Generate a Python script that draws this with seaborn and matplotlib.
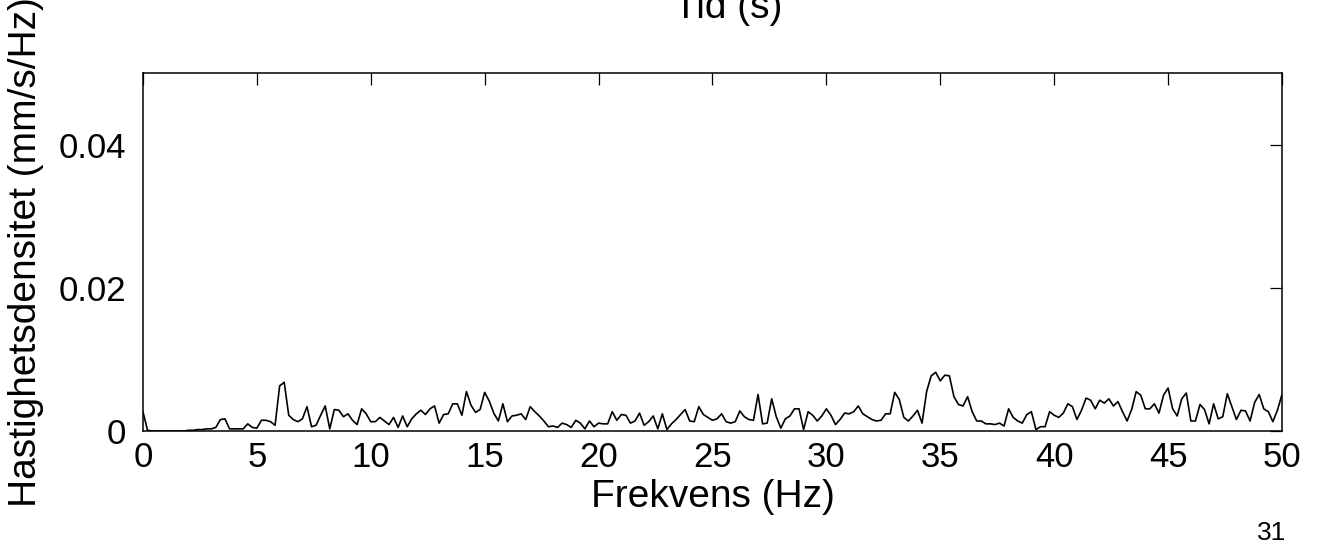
import numpy as np
import pandas as pd
import seaborn as sns
import matplotlib
matplotlib.use('Agg')
import matplotlib.pyplot as plt

# frequency grid, 0.2 Hz resolution
frekvens = np.linspace(0, 50, 251)

# velocity density, one row per 5 Hz
densitet = [
    0.0027, 0.0001, 0.0000, 0.0000, 0.0000, 0.0000, 0.0000, 0.0000, 0.0000, 0.0000,
    0.0001, 0.0001, 0.0002, 0.0002, 0.0003, 0.0003, 0.0005, 0.0016, 0.0017, 0.0003,
    0.0003, 0.0003, 0.0003, 0.0010, 0.0005,
    0.0004, 0.0015, 0.0015, 0.0013, 0.0008, 0.0063, 0.0068, 0.0022, 0.0016, 0.0013,
    0.0017, 0.0034, 0.0006, 0.0008, 0.0022, 0.0035, 0.0003, 0.0030, 0.0029, 0.0020,
    0.0024, 0.0015, 0.0009, 0.0031, 0.0024,
    0.0013, 0.0013, 0.0019, 0.0014, 0.0009, 0.0019, 0.0005, 0.0021, 0.0006, 0.0017,
    0.0024, 0.0029, 0.0023, 0.0031, 0.0035, 0.0011, 0.0023, 0.0024, 0.0038, 0.0038,
    0.0022, 0.0055, 0.0036, 0.0026, 0.0030,
    0.0054, 0.0042, 0.0025, 0.0014, 0.0038, 0.0013, 0.0021, 0.0022, 0.0024, 0.0016,
    0.0034, 0.0027, 0.0021, 0.0014, 0.0006, 0.0007, 0.0005, 0.0011, 0.0009, 0.0005,
    0.0015, 0.0011, 0.0003, 0.0014, 0.0006,
    0.0011, 0.0010, 0.0010, 0.0027, 0.0015, 0.0023, 0.0022, 0.0011, 0.0014, 0.0025,
    0.0008, 0.0013, 0.0021, 0.0003, 0.0024, 0.0002, 0.0010, 0.0016, 0.0023, 0.0030,
    0.0014, 0.0013, 0.0034, 0.0023, 0.0019,
    0.0015, 0.0017, 0.0024, 0.0013, 0.0011, 0.0013, 0.0028, 0.0020, 0.0016, 0.0015,
    0.0051, 0.0010, 0.0011, 0.0045, 0.0020, 0.0004, 0.0017, 0.0021, 0.0031, 0.0031,
    0.0002, 0.0027, 0.0022, 0.0014, 0.0021,
    0.0031, 0.0022, 0.0009, 0.0016, 0.0025, 0.0024, 0.0027, 0.0035, 0.0024, 0.0020,
    0.0016, 0.0014, 0.0015, 0.0024, 0.0024, 0.0054, 0.0044, 0.0019, 0.0014, 0.0021,
    0.0029, 0.0011, 0.0055, 0.0077, 0.0082,
    0.0070, 0.0078, 0.0077, 0.0048, 0.0037, 0.0035, 0.0048, 0.0027, 0.0014, 0.0014,
    0.0010, 0.0010, 0.0009, 0.0011, 0.0007, 0.0031, 0.0019, 0.0014, 0.0011, 0.0023,
    0.0027, 0.0002, 0.0006, 0.0006, 0.0027,
    0.0022, 0.0019, 0.0025, 0.0038, 0.0034, 0.0016, 0.0029, 0.0046, 0.0043, 0.0031,
    0.0043, 0.0039, 0.0045, 0.0035, 0.0041, 0.0027, 0.0014, 0.0030, 0.0055, 0.0050,
    0.0031, 0.0031, 0.0038, 0.0025, 0.0050,
    0.0060, 0.0031, 0.0021, 0.0045, 0.0053, 0.0014, 0.0014, 0.0037, 0.0030, 0.0010,
    0.0038, 0.0017, 0.0020, 0.0052, 0.0034, 0.0016, 0.0029, 0.0028, 0.0014, 0.0040,
    0.0051, 0.0031, 0.0027, 0.0013, 0.0029, 0.0051,
]

x_ticks = [0, 5, 10, 15, 20, 25, 30, 35, 40, 45, 50]
y_ticks = [0, 0.02, 0.04]
y_ticklabels = ['0', '0.02', '0.04']

sns.set_style('white')
plt.rcParams['font.family'] = ['Liberation Sans', 'DejaVu Sans']
plt.rcParams['text.color'] = 'black'
plt.rcParams['axes.labelcolor'] = 'black'

fig = plt.figure(figsize=(13.2, 5.44), dpi=100)
ax = fig.add_axes([0.1083, 0.2077, 0.8629, 0.6581])

data = pd.DataFrame({'f': frekvens, 'v': densitet})
sns.lineplot(data=data, x='f', y='v', ax=ax, color='black', linewidth=1.2)

ax.set_xlim(0, 50)
ax.set_ylim(0, 0.05)
ax.set_xticks(x_ticks)
ax.set_xticklabels([str(t) for t in x_ticks])
ax.set_yticks(y_ticks)
ax.set_yticklabels(y_ticklabels)
ax.tick_params(direction='in', length=8.5, width=0.9, top=True, right=True,
               labelsize=25, colors='black')
ax.tick_params(axis='x', pad=7)
ax.tick_params(axis='y', pad=12)
for s in ax.spines.values():
    s.set_color('black')
    s.set_linewidth(1.1)

ax.set_xlabel('Frekvens (Hz)', fontsize=28)
ax.set_ylabel('Hastighetsdensitet (mm/s/Hz)', fontsize=28)
ax.xaxis.set_label_coords(0.5, -0.135)
ax.yaxis.set_label_coords(-0.087, 0.5)

fig.text(0.552, 0.967, 'Tid (s)', fontsize=28, ha='center', va='baseline')
fig.text(0.963, 0.008, '31', fontsize=19, ha='center', va='baseline')

fig.savefig('out.png', dpi=100, facecolor='white')
